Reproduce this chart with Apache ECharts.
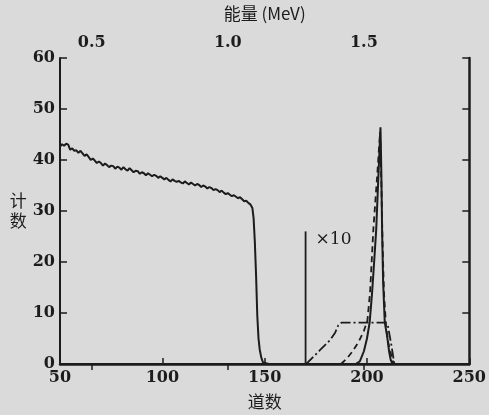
<!DOCTYPE html>
<html>
<head>
<meta charset="utf-8">
<script src="https://cdn.jsdelivr.net/npm/echarts@6/dist/echarts.min.js"></script>
<style>
  html, body { margin: 0; padding: 0; background: #dadada; }
  #chart { width: 489px; height: 415px; }
</style>
</head>
<body>
<div id="chart"></div>
<script>
// main spectrum (channel -> counts)
const mainChannels = [
  50, 51, 52, 53, 54, 55, 56, 57, 58, 59, 60, 61, 62, 63, 64, 65, 66, 67, 68, 69,
  70, 71, 72, 73, 74, 75, 76, 77, 78, 79, 80, 81, 82, 83, 84, 85, 86, 87, 88, 89,
  90, 91, 92, 93, 94, 95, 96, 97, 98, 99, 100, 101, 102, 103, 104, 105, 106, 107, 108, 109,
  110, 111, 112, 113, 114, 115, 116, 117, 118, 119, 120, 121, 122, 123, 124, 125, 126, 127, 128, 129,
  130, 131, 132, 133, 134, 135, 136, 137, 138, 139, 140, 141, 142, 143, 144, 144.6, 145.2, 145.8, 146.4, 147,
  147.6, 148.4, 149.2, 150, 152
]
const mainCounts = [
  42.6, 43.1, 42.8, 43.2, 43.0, 42.0, 42.3, 41.8, 41.9, 41.4, 41.8, 41.3, 40.8, 41.1, 40.6, 40.0, 40.3, 39.9, 39.4, 39.7,
  39.4, 38.9, 39.3, 39.0, 38.6, 38.9, 38.8, 38.3, 38.7, 38.5, 38.1, 38.6, 38.2, 37.9, 38.4, 38.0, 37.6, 37.9, 37.8, 37.3,
  37.6, 37.4, 37.0, 37.4, 37.1, 36.8, 37.1, 36.9, 36.5, 36.8, 36.5, 36.2, 36.5, 36.1, 35.8, 36.2, 35.9, 35.7, 35.9, 35.6,
  35.4, 35.8, 35.5, 35.2, 35.6, 35.3, 35.0, 35.3, 35.1, 34.7, 35.0, 34.8, 34.4, 34.7, 34.5, 34.1, 34.3, 34.1, 33.7, 34.0,
  33.6, 33.3, 33.5, 33.2, 32.9, 33.1, 32.8, 32.5, 32.7, 32.3, 31.9, 32.0, 31.6, 31.3, 30.6, 28.6, 24.0, 17.5, 9.5, 5.0,
  2.8, 1.2, 0.3, 0, 0
]

// x10 region curves
const solidChannels = [194.5, 196.5, 198.5, 200, 201.3, 202.5, 203.5, 204.5, 205.5, 206.6, 207, 207.4, 207.9, 208.7, 209.8, 210.8, 211.6, 212.5]
const solidCounts = [0, 0.5, 2.5, 5, 8.1, 14, 20, 26.3, 36, 46.4, 38, 26, 16, 8.1, 5.6, 2.5, 0.8, 0]

const dashedChannels = [187.3, 190, 193, 196, 198.5, 200.2, 201.5, 203.1, 205, 206.4, 207, 207.6, 208.3, 209.4, 210.5, 211.4, 213]
const dashedCounts = [0, 1, 2.5, 4.4, 6.5, 8.5, 14, 26.3, 37, 45.5, 36, 24, 14, 6.9, 4, 2.5, 0]

const dashDotChannels = [170.3, 177, 182, 184.5, 186, 187.5, 209, 210.2, 211.8, 213.4]
const dashDotCounts = [0, 2.7, 4.7, 6.2, 7.6, 8.1, 8.1, 7.5, 4, 0]

// scale marker
const markerChannels = [170, 170]
const markerCounts = [0, 26]
const markerLabel = '×10'

// top energy axis
const energyLabels = ['0.5', '1.0', '1.5']
const energyChannels = [65.5, 132, 198.5]

const pairs = (xs, ys) => xs.map((x, i) => [x, ys[i]])

const ink = '#1c1c1c'
const serif = 'DejaVu Serif'
const cjk = 'Noto Sans CJK SC'
const numStyle = { color: ink, fontFamily: serif, fontSize: 16, fontWeight: 'bold' }

const chart = echarts.init(document.getElementById('chart'))
chart.setOption({
  animation: false,
  backgroundColor: '#dadada',
  grid: { left: 60, right: 12, top: 51, bottom: 45 },
  xAxis: [
    {
      type: 'value', min: 50, max: 250, interval: 50,
      name: '道数', nameLocation: 'middle', nameGap: 29,
      nameTextStyle: { color: ink, fontFamily: cjk, fontSize: 17 },
      axisLine: { lineStyle: { color: ink, width: 2 } },
      axisTick: { inside: true, length: 6, lineStyle: { color: ink, width: 1.5 } },
      axisLabel: { ...numStyle, margin: 6 },
      splitLine: { show: false }
    },
    {
      type: 'value', min: 50, max: 250, position: 'top',
      name: '能量 (MeV)', nameLocation: 'middle', nameGap: 36,
      nameTextStyle: { color: ink, fontFamily: cjk, fontSize: 17 },
      axisLine: { lineStyle: { color: ink, width: 2.5 } },
      axisTick: { inside: true, length: 6, customValues: energyChannels, lineStyle: { color: ink, width: 1.5 } },
      axisLabel: {
        ...numStyle, margin: 7,
        customValues: energyChannels,
        formatter: v => energyLabels[energyChannels.indexOf(v)] ?? ''
      },
      splitLine: { show: false }
    }
  ],
  yAxis: [
    {
      type: 'value', min: 0, max: 60, interval: 10,
      name: '计\n数', nameLocation: 'middle', nameRotate: 0, nameGap: 32,
      nameTextStyle: { color: ink, fontFamily: cjk, fontSize: 17, lineHeight: 20 },
      axisLine: { lineStyle: { color: ink, width: 2 } },
      axisTick: { inside: true, length: 7, lineStyle: { color: ink, width: 1.5 } },
      axisLabel: { ...numStyle, margin: 5 },
      splitLine: { show: false }
    },
    {
      type: 'value', min: 0, max: 60, interval: 10, position: 'right',
      axisLine: { show: true, lineStyle: { color: ink, width: 2.5 } },
      axisTick: { inside: true, length: 7, lineStyle: { color: ink, width: 1.5 } },
      axisLabel: { show: false },
      splitLine: { show: false }
    }
  ],
  series: [
    {
      type: 'line', data: pairs(mainChannels, mainCounts), showSymbol: false, symbol: 'none',
      lineStyle: { color: ink, width: 2 }
    },
    {
      type: 'line', data: pairs(solidChannels, solidCounts), showSymbol: false, symbol: 'none',
      lineStyle: { color: ink, width: 2 }
    },
    {
      type: 'line', data: pairs(dashedChannels, dashedCounts), showSymbol: false, symbol: 'none',
      lineStyle: { color: ink, width: 1.8, type: [6, 4] }
    },
    {
      type: 'line', data: pairs(dashDotChannels, dashDotCounts), showSymbol: false, symbol: 'none',
      lineStyle: { color: ink, width: 1.8, type: [10, 3, 2, 3] }
    },
    {
      type: 'line', data: pairs(markerChannels, markerCounts), showSymbol: false, symbol: 'none',
      lineStyle: { color: ink, width: 1.8 },
      endLabel: {
        show: true, formatter: markerLabel, align: 'left', verticalAlign: 'middle',
        offset: [2, 8], color: ink, fontFamily: serif, fontSize: 17
      }
    }
  ]
})
</script>
</body>
</html>
